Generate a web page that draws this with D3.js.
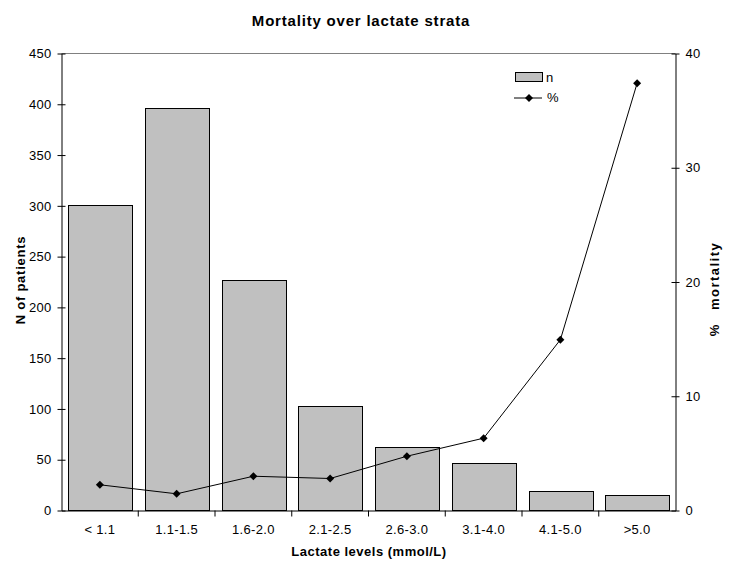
<!DOCTYPE html>
<html><head><meta charset="utf-8">
<script src="https://cdn.jsdelivr.net/npm/d3@7"></script>
<style>body{margin:0;background:#fff}svg{display:block}text{font-family:"Liberation Sans",Arial,sans-serif}</style>
</head><body>
<svg id="c" width="737" height="569"></svg>
<script>
const categories = ["< 1.1","1.1-1.5","1.6-2.0","2.1-2.5","2.6-3.0","3.1-4.0","4.1-5.0",">5.0"];
const nValues = [301, 396, 227, 103, 63, 47, 19, 15];
const mortality = [2.25, 1.46, 3.0, 2.8, 4.75, 6.33, 14.95, 37.4];
const leftTicks = [0,50,100,150,200,250,300,350,400,450];
const rightTicks = [0,10,20,30,40];

const svg = d3.select("#c");
const L = 61.5, R = 675.5, T = 53.5, B = 510.5;
const x = d3.scaleBand().domain(categories).range([L, R]).paddingInner(0.17).paddingOuter(0.085);
const xb = d3.scaleBand().domain(categories).range([L, R]);
const yL = d3.scaleLinear().domain([0,450]).range([B, T]);
const yR = d3.scaleLinear().domain([0,40]).range([B, T]);

// top border
svg.append("line").attr("x1",L).attr("x2",R).attr("y1",T).attr("y2",T).attr("stroke","#808080");

// bars
svg.selectAll("rect.bar").data(nValues).join("rect").attr("class","bar")
  .attr("x",(d,i)=>Math.round(x(categories[i]))+0.5).attr("width",Math.round(x.bandwidth()))
  .attr("y",d=>Math.round(yL(d))+0.5).attr("height",d=>B-Math.round(yL(d))-0.5)
  .attr("fill","#c0c0c0").attr("stroke","#000").attr("stroke-width",1);

// left axis
const gl = svg.append("g").attr("transform",`translate(${L},0)`)
  .call(d3.axisLeft(yL).tickValues(leftTicks).tickSize(4).tickSizeOuter(0).tickPadding(6));
gl.selectAll(".tick line").attr("x2",4).attr("x1",-4);
// right axis
const gr = svg.append("g").attr("transform",`translate(${R},0)`)
  .call(d3.axisRight(yR).tickValues(rightTicks).tickSize(4).tickSizeOuter(0).tickPadding(6));
gr.selectAll(".tick line").attr("x1",-4).attr("x2",4);
// bottom axis
const gb = svg.append("g").attr("transform",`translate(0,${B})`)
  .call(d3.axisBottom(xb).tickSize(0).tickSizeOuter(0).tickPadding(14));
gb.selectAll("line.bt").data(d3.range(1,categories.length)).join("line").attr("class","bt")
  .attr("x1",i=>L+i*xb.step()).attr("x2",i=>L+i*xb.step()).attr("y1",0).attr("y2",6).attr("stroke","#000");
[gl,gr,gb].forEach(g=>{g.selectAll(".domain").attr("stroke","#000");g.selectAll("text").attr("font-size",13).attr("letter-spacing","0.3px").attr("fill","#000").attr("font-family","Liberation Sans, Arial, sans-serif");g.selectAll(".tick line").attr("stroke","#000");});

// line
const cx = (i)=>xb(categories[i])+xb.bandwidth()/2;
const line = d3.line().x((d,i)=>cx(i)).y(d=>yR(d));
svg.append("path").datum(mortality).attr("d",line).attr("fill","none").attr("stroke","#000").attr("stroke-width",1);
const dia = "M0,-4L4,0L0,4L-4,0Z";
svg.selectAll("path.pt").data(mortality).join("path").attr("class","pt")
  .attr("transform",(d,i)=>`translate(${cx(i)},${yR(d)})`)
  .attr("d",dia).attr("fill","#000");

// legend
svg.append("rect").attr("x",515.5).attr("y",72.5).attr("width",27).attr("height",9).attr("fill","#c0c0c0").attr("stroke","#000");
svg.append("text").attr("x",546).attr("y",82).attr("font-size",13).text("n");
svg.append("line").attr("x1",514).attr("x2",542).attr("y1",98).attr("y2",98).attr("stroke","#000");
svg.append("path").attr("transform","translate(529,98)").attr("d",dia).attr("fill","#000");
svg.append("text").attr("x",547).attr("y",102).attr("font-size",13).text("%");

// titles
svg.append("text").attr("x",361).attr("y",26).attr("text-anchor","middle").attr("font-size",15).attr("letter-spacing","0.8px").attr("font-weight","bold").text("Mortality over lactate strata");
svg.append("text").attr("x",369).attr("y",556).attr("text-anchor","middle").attr("font-size",13).attr("letter-spacing","0.5px").attr("font-weight","bold").text("Lactate levels (mmol/L)");
svg.append("text").attr("transform","translate(25,280) rotate(-90)").attr("text-anchor","middle").attr("font-size",13).attr("letter-spacing","0.75px").attr("font-weight","bold").text("N of patients");
svg.append("text").attr("transform","translate(719,289) rotate(-90)").attr("text-anchor","middle").attr("font-size",13).attr("letter-spacing","1.5px").attr("word-spacing","8px").attr("font-weight","bold").text("% mortality");
</script>
</body></html>
